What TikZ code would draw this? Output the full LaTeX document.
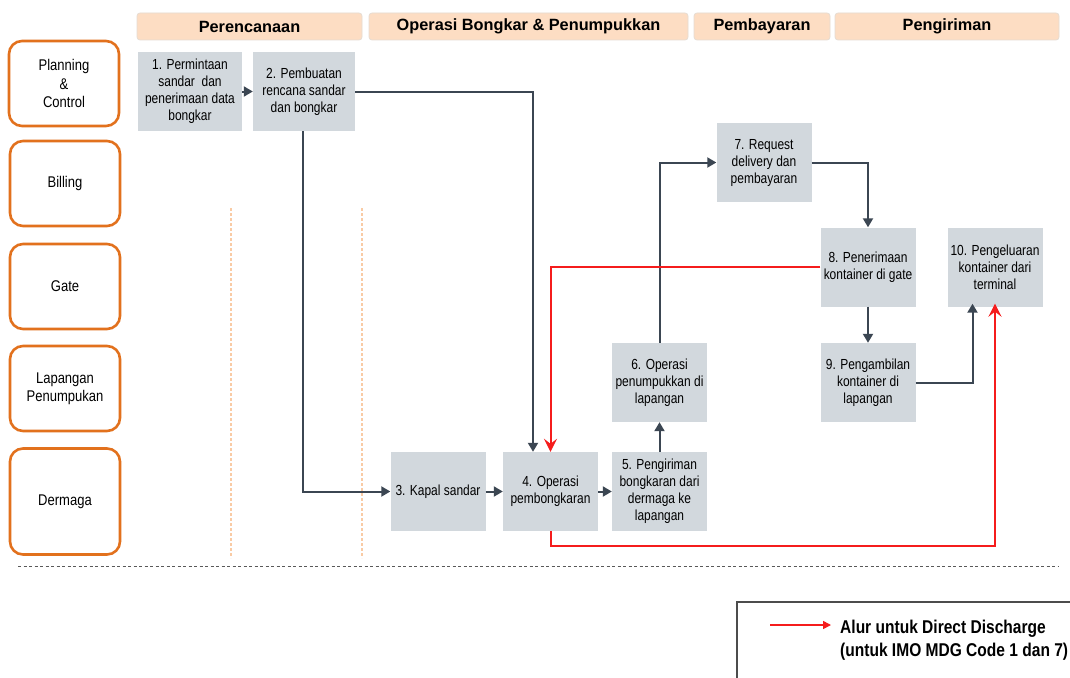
\documentclass[tikz,border=0pt]{standalone}
\usepackage{fontspec}
\setmainfont{Liberation Sans}
\newfontfamily\narrowfont[FakeStretch=0.84]{Liberation Sans}
\newfontfamily\boxfont[FakeStretch=0.82]{Liberation Sans}
\usetikzlibrary{arrows.meta}
\definecolor{laneorange}{HTML}{E2711D}
\definecolor{headfill}{HTML}{FDDDC3}
\definecolor{headline}{HTML}{E6DCD2}
\definecolor{boxfill}{HTML}{D2D8DD}
\definecolor{arrdark}{HTML}{3B4652}
\definecolor{flowred}{HTML}{F51C1C}
\definecolor{dashpeach}{HTML}{F9CBA5}
\tikzset{
  lane/.style={draw=laneorange, line width=2.6pt, rounded corners=13pt, fill=white,
    minimum width=110pt, minimum height=85pt, align=center, font=\narrowfont\fontsize{15.5}{18.4}\selectfont},
  head/.style={draw=headline, line width=0.8pt, fill=headfill, rounded corners=3pt,
    minimum height=27pt, font=\bfseries\fontsize{16.3}{18}\selectfont},
  proc/.style={fill=boxfill, minimum width=95pt, minimum height=79pt, inner sep=1pt,
    align=center, font=\boxfont\fontsize{14.6}{17}\selectfont},
  darr/.style={draw=arrdark, line width=2pt, -{Triangle[length=9pt,width=10pt]}},
  rarr/.style={draw=flowred, line width=2pt, -{Stealth[length=13pt,width=13pt,inset=5pt]}},
}
\begin{document}
\begin{tikzpicture}[x=1pt,y=-1pt]
\useasboundingbox (0,0) rectangle (1070,677);
\fill[white] (0,0) rectangle (1070,677);
% headers
\node[head, minimum width=225pt] (h1) at (249.5,26.5) {Perencanaan};
\node[head, minimum width=319pt] (h2) at (528.5,26.5) {Operasi Bongkar \& Penumpukkan};
\node[head, minimum width=136pt] (h3) at (762,26.5) {Pembayaran};
\node[head, minimum width=224pt] (h4) at (947,26.5) {Pengiriman};
% lanes
\node[lane] (l1) at (64,83.5) {Planning\\\&\\Control};
\node[lane] (l2) at (65,183.5) {Billing};
\node[lane] (l3) at (65,286.5) {Gate};
\node[lane] (l4) at (65,388.5) {Lapangan\\Penumpukan};
\node[lane, minimum height=106pt] (l5) at (65,501.5) {Dermaga};
% separators
\draw[dashpeach, line width=1.2pt, dash pattern=on 3pt off 2pt] (231,208) -- (231,558);
\draw[dashpeach, line width=1.2pt, dash pattern=on 3pt off 2pt] (362,208) -- (362,558);
\draw[gray!70!black, line width=1pt, dash pattern=on 3pt off 2.5pt] (18,566) -- (1058,566);
% process boxes
\node[proc, minimum width=104pt] (b1) at (190,91.5) {1. Permintaan\\sandar\ \ dan\\penerimaan data\\bongkar};
\node[proc, minimum width=102pt] (b2) at (304,91.5) {2. Pembuatan\\rencana sandar\\dan bongkar};
\node[proc] (b3) at (438,491.5) {3. Kapal sandar};
\node[proc] (b4) at (550.5,491.5) {4. Operasi\\pembongkaran};
\node[proc] (b5) at (659.5,491.5) {5. Pengiriman\\bongkaran dari\\dermaga ke\\lapangan};
\node[proc] (b6) at (659.5,382.5) {6. Operasi\\penumpukkan di\\lapangan};
\node[proc] (b7) at (764,162.5) {7. Request\\delivery dan\\pembayaran};
\node[proc] (b8) at (868,267) {8. Penerimaan\\kontainer di gate};
\node[proc] (b9) at (868,382.5) {9. Pengambilan\\kontainer di\\lapangan};
\node[proc] (b10) at (995,267) {10. Pengeluaran\\kontainer dari\\terminal};
% dark connectors
\draw[darr] (b1) -- (b2);
\draw[darr] (b2.east) -| ([xshift=-17.5pt]b4.north);
\draw[darr] ([xshift=-1pt]b2.south) |- (b3.west);
\draw[darr] (b3) -- (b4);
\draw[darr] (b4) -- (b5);
\draw[darr] (b5) -- (b6);
\draw[darr] (b6.north) |- (b7.west);
\draw[darr] (b7.east) -| (b8.north);
\draw[darr] (b8) -- (b9);
\draw[darr] (b9.east) -| ([xshift=-22.5pt,yshift=3pt]b10.south);
% red connectors
\draw[rarr] (b8.west) -| (b4.north);
\draw[rarr] (b4.south) -- ++(0,15) -| ([yshift=3pt]b10.south);
% legend
\draw[gray!60!black, line width=1.5pt] (737,690) -- (737,602) -- (1080,602);
\coordinate (la) at (770,625);
\coordinate (lb) at (831,625);
\draw[draw=flowred, line width=1.6pt, -{Triangle[length=8pt,width=8pt]}] (la) -- (lb);
\node[anchor=west, align=left, inner sep=0pt, font=\narrowfont\bfseries\fontsize{18.5}{23}\selectfont] (lt) at (840,640) {Alur untuk Direct Discharge\\(untuk IMO MDG Code 1 dan 7)};
\end{tikzpicture}
\end{document}
